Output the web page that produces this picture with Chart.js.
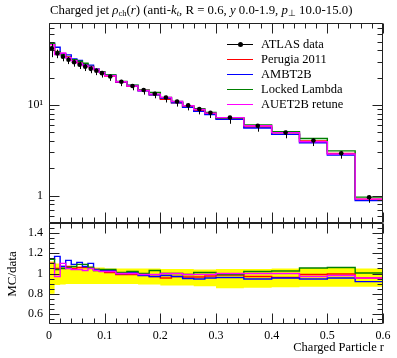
<!DOCTYPE html>
<html><head><meta charset="utf-8">
<script src="https://cdn.jsdelivr.net/npm/chart.js@4.4.1/dist/chart.umd.min.js"></script>
<style>
body{margin:0;background:#fff;width:397px;height:358px;overflow:hidden;position:relative;font-family:"Liberation Serif",serif;}
canvas{position:absolute;left:0;}
#c1{top:0;}
#c2{top:222px;}
.t{position:absolute;white-space:nowrap;color:#000;line-height:14px;}
.t sub{font-size:8.5px;vertical-align:-2px;line-height:0;}
.ls{position:absolute;height:1px;width:26px;left:227px;}
</style></head><body>
<canvas id="c1" width="397" height="224"></canvas>
<canvas id="c2" width="397" height="136"></canvas>
<div class="t" style="left:50px;top:3px;font-size:12.8px">Charged jet <i>ρ</i><sub>ch</sub>(<i>r</i>) (anti-<i>k</i><sub><i>t</i></sub>, R = 0.6, <i>y</i> 0.0-1.9, <i>p</i><sub>⊥</sub> 10.0-15.0)</div>
<div id="legend"></div>
<div class="t" style="left:-13px;top:267px;font-size:13px;transform:rotate(-90deg);width:50px;text-align:center">MC/data</div>
<div class="t" style="right:13px;top:340px;font-size:12.5px">Charged Particle r</div>
<script>
// ---- data ----
const binEdges = [0,0.01,0.02,0.03,0.04,0.05,0.06,0.07,0.08,0.09,0.10,
  0.12,0.14,0.16,0.18,0.20,0.22,0.24,0.26,0.28,0.30,
  0.35,0.40,0.45,0.50,0.55,0.60];
const atlasData = [42, 37, 34, 31.5, 29.5, 27.8, 26.4, 25.0, 23.8, 22.4,
  20.6, 18.0, 16.2, 14.6, 13.3, 12.1, 10.9, 9.9, 9.0, 8.2,
  7.25, 5.9, 4.96, 4.05, 2.94, 0.96];
// data uncertainty band in ratio (lower / upper edge)
const bandLow  = [0.80, 0.885, 0.89, 0.895, 0.895, 0.895, 0.895, 0.895, 0.895, 0.895,
  0.895, 0.895, 0.895, 0.89, 0.89, 0.88, 0.88, 0.88, 0.875, 0.875,
  0.855, 0.86, 0.865, 0.87, 0.87, 0.87];
const bandHigh = [1.12, 1.10, 1.07, 1.07, 1.07, 1.07, 1.07, 1.07, 1.06, 1.06,
  1.05, 1.05, 1.05, 1.05, 1.05, 1.045, 1.045, 1.045, 1.04, 1.04,
  1.045, 1.045, 1.05, 1.055, 1.055, 1.05];
// MC / data ratios
const ratioPerugia = [1.10, 1.05, 1.07, 1.07, 1.05, 1.06, 1.06, 1.06, 1.04, 1.03,
  1.01, 0.99, 0.99, 0.99, 0.97, 0.955, 0.97, 0.965, 0.965, 0.975,
  0.985, 0.97, 0.96, 0.99, 0.995, 0.955];
const ratioAMBT2B = [1.14, 1.17, 1.07, 1.13, 1.09, 1.11, 1.07, 1.10, 1.04, 1.03,
  1.03, 1.00, 1.01, 0.98, 0.97, 0.98, 0.97, 0.95, 0.945, 0.955,
  0.96, 0.945, 0.955, 0.945, 0.955, 0.92];
const ratioLocked = [1.14, 1.04, 1.05, 1.06, 1.07, 1.09, 1.09, 1.06, 1.03, 1.04,
  1.04, 1.01, 1.02, 1.00, 1.03, 1.00, 1.00, 0.99, 1.01, 1.01,
  0.99, 1.02, 1.025, 1.055, 1.06, 1.005];
const ratioAUET2B = [1.10, 0.97, 1.10, 1.05, 1.04, 1.04, 1.03, 1.05, 1.03, 1.02,
  1.02, 1.00, 1.00, 0.99, 0.99, 1.00, 1.00, 0.99, 0.99, 0.99,
  1.00, 1.00, 1.00, 0.97, 0.98, 0.955];
const seriesNames = ["ATLAS data", "Perugia 2011", "AMBT2B", "Locked Lambda", "AUET2B retune"];
const seriesColors = ["#000000", "#ff0000", "#0000ff", "#008000", "#ff00ff"];
const xMajor = [0, 0.1, 0.2, 0.3, 0.4, 0.5, 0.6];
const xLabels = ["0", "0.1", "0.2", "0.3", "0.4", "0.5", "0.6"];
const xMinor = [0.02,0.04,0.06,0.08,0.12,0.14,0.16,0.18,0.22,0.24,0.26,0.28,0.32,0.34,0.36,0.38,0.42,0.44,0.46,0.48,0.52,0.54,0.56,0.58];
const logMajor = [1, 10];
const logLabels = ["1", "10¹"];
const logMinor = [0.5,0.6,0.7,0.8,0.9,2,3,4,5,6,7,8,9,20,30,40,50,60,70,80];
const ratioMajor = [0.6, 0.8, 1.0, 1.2, 1.4];
const ratioLabels = ["0.6", "0.8", "1", "1.2", "1.4"];
const ratioMinor = [0.55,0.65,0.7,0.75,0.85,0.9,0.95,1.05,1.1,1.15,1.25,1.3,1.35,1.45];

// ---- helpers ----
function hist(vals){
  const pts=[];
  for(let i=0;i<vals.length;i++){pts.push({x:binEdges[i],y:vals[i]});pts.push({x:binEdges[i+1],y:vals[i]});}
  return pts;
}
const centers = atlasData.map((v,i)=>(binEdges[i]+binEdges[i+1])/2);
const ratios = [ratioPerugia, ratioAMBT2B, ratioLocked, ratioAUET2B];
const mcValues = ratios.map(r=>r.map((q,i)=>q*atlasData[i]));

// legend (HTML text)
const lg=document.getElementById('legend');
seriesNames.forEach((n,i)=>{
  const yc=44.5+15*i;
  const l=document.createElement('div');l.className='ls';l.style.top=(yc-0.5)+'px';l.style.background=seriesColors[i];lg.appendChild(l);
  if(i===0){const d=document.createElement('div');d.style.cssText='position:absolute;left:238px;top:'+(yc-2.5)+'px;width:5px;height:5px;border-radius:50%;background:#000';lg.appendChild(d);}
  const t=document.createElement('div');t.className='t';t.style.cssText+='left:261px;top:'+(yc-7.5)+'px;font-size:12.5px';t.textContent=n;lg.appendChild(t);
});

const FONT={family:"Liberation Serif",size:12};
const noPad=s=>{s.paddingTop=0;s.paddingBottom=0;s.paddingLeft=0;s.paddingRight=0;};
const frameTicks={
  id:'frameTicks',
  afterDatasetsDraw(chart,args,o){
    const {ctx,chartArea:a,scales}=chart;
    ctx.save();
    ctx.strokeStyle='#222';ctx.lineWidth=1;
    const L=Math.round(a.left)+0.5,R=Math.round(a.right)-0.5,T=Math.round(a.top)+0.5,B=Math.round(a.bottom)-0.5;
    ctx.beginPath();
    const xs=scales.x,ys=scales.y;
    const vx=(list,len)=>list.forEach(v=>{const p=Math.round(xs.getPixelForValue(v))+0.5;ctx.moveTo(p,B);ctx.lineTo(p,B-len);ctx.moveTo(p,T);ctx.lineTo(p,T+len);});
    const vy=(list,len)=>list.forEach(v=>{const p=Math.round(ys.getPixelForValue(v))+0.5;ctx.moveTo(L,p);ctx.lineTo(L+len,p);ctx.moveTo(R,p);ctx.lineTo(R-len,p);});
    vx(xMajor,10);vx(xMinor,5);vy(o.yMajor,10);vy(o.yMinor,5);
    ctx.rect(L,T,R-L,B-T);
    ctx.stroke();
    ctx.restore();
  }
};
const errorBars={
  id:'errorBars',
  afterDatasetsDraw(chart,args,o){
    if(!o.on)return;
    const {ctx,scales}=chart;ctx.save();ctx.strokeStyle='#000';ctx.lineWidth=1;ctx.beginPath();
    atlasData.forEach((v,i)=>{
      const px=Math.round(scales.x.getPixelForValue(centers[i]))+0.5;
      ctx.moveTo(px,scales.y.getPixelForValue(v*bandLow[i]));
      ctx.lineTo(px,scales.y.getPixelForValue(v*bandHigh[i]));
    });
    ctx.stroke();ctx.restore();
  }
};

const mcOrder=[4,3,2,1];
const topDatasets = mcValues.map((vals,k)=>({type:'line',data:hist(vals),borderColor:seriesColors[k+1],borderWidth:1.4,pointRadius:0,fill:false,tension:0,order:mcOrder[k]}));
topDatasets.push({type:'scatter',data:atlasData.map((v,i)=>({x:centers[i],y:v})),pointRadius:2.3,pointBackgroundColor:'#000',pointBorderWidth:0,order:0});

new Chart(document.getElementById('c1'),{
  data:{datasets:topDatasets},
  options:{
    responsive:false,animation:false,
    layout:{autoPadding:false,padding:{top:23,right:14,bottom:1,left:0}},
    plugins:{legend:{display:false},tooltip:{enabled:false},frameTicks:{yMajor:logMajor,yMinor:logMinor},errorBars:{on:true}},
    scales:{
      x:{type:'linear',min:0,max:0.6,grid:{display:false,drawTicks:false},border:{display:false},ticks:{display:false},afterFit:s=>{s.height=0;noPad(s);}},
      y:{type:'logarithmic',min:0.5,max:80,grid:{display:false,drawTicks:false},border:{display:false},
         afterBuildTicks:s=>{s.ticks=logMajor.map(v=>({value:v}));},
         ticks:{padding:6,color:'#000',font:FONT,callback:(v)=>logLabels[logMajor.indexOf(v)]},
         afterFit:s=>{s.width=49;noPad(s);}}
    }
  },
  plugins:[frameTicks,errorBars]
});

const ratioDatasets=[
  {type:'line',data:hist(bandLow),borderWidth:0,pointRadius:0,fill:false,order:21},
  {type:'line',data:hist(bandHigh),borderWidth:0,pointRadius:0,fill:0,backgroundColor:'#ffff00',order:20}
];
ratios.forEach((r,k)=>ratioDatasets.push({type:'line',data:hist(r),borderColor:seriesColors[k+1],borderWidth:1.4,pointRadius:0,fill:false,tension:0,order:mcOrder[k]}));

new Chart(document.getElementById('c2'),{
  data:{datasets:ratioDatasets},
  options:{
    responsive:false,animation:false,
    layout:{autoPadding:false,padding:{top:1,right:14,bottom:0,left:0}},
    plugins:{legend:{display:false},tooltip:{enabled:false},frameTicks:{yMajor:ratioMajor,yMinor:ratioMinor},errorBars:{on:false}},
    scales:{
      x:{type:'linear',min:0,max:0.6,grid:{display:false,drawTicks:false},border:{display:false},
         afterBuildTicks:s=>{s.ticks=xMajor.map(v=>({value:v}));},
         ticks:{padding:5,color:'#000',font:FONT,maxRotation:0,autoSkip:false,callback:(v)=>xLabels[xMajor.indexOf(v)]},
         afterFit:s=>{s.height=34;noPad(s);}},
      y:{type:'linear',min:0.5,max:1.5,grid:{display:false,drawTicks:false},border:{display:false},
         afterBuildTicks:s=>{s.ticks=ratioMajor.map(v=>({value:v}));},
         ticks:{padding:6,color:'#000',font:FONT,callback:(v)=>ratioLabels[ratioMajor.findIndex(m=>Math.abs(m-v)<1e-6)]},
         afterFit:s=>{s.width=49;noPad(s);}}
    }
  },
  plugins:[frameTicks]
});
</script>
</body></html>
